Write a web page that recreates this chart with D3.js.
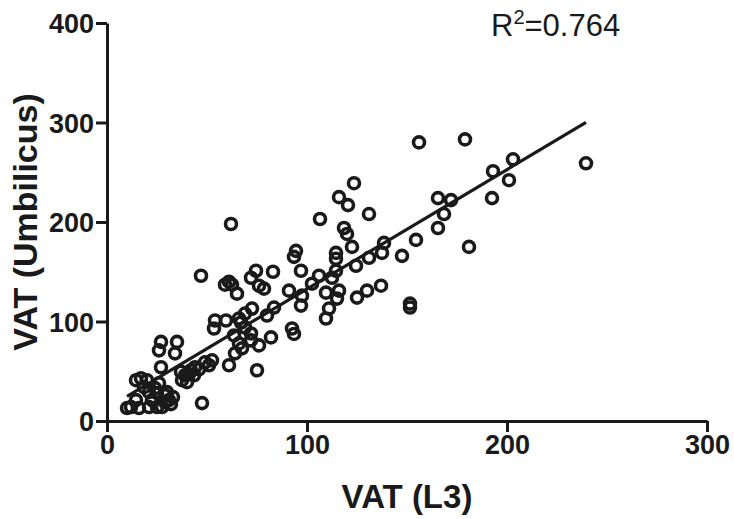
<!DOCTYPE html>
<html>
<head>
<meta charset="utf-8">
<script src="https://cdn.jsdelivr.net/npm/d3@7"></script>
<style>
  body { margin: 0; background: #fff; }
  text { font-family: "Liberation Sans", Arial, sans-serif; fill: #1a1a1a; }
</style>
</head>
<body>
<div id="chart"></div>
<script>
// Data: VAT at L3 (x) vs VAT at umbilicus (y)
const vatL3 = [
  12, 16, 10, 14.5, 17, 14.5, 20, 21, 25, 22.5, 29, 29, 25, 21, 31, 26, 18.5, 27, 26, 27,
  35, 34, 37, 39, 42, 44, 43.5, 37.5, 40, 47.5, 51, 52.5, 54, 53.5, 61, 64, 66, 63.5, 72.5, 69,
  66, 72, 72, 67.5, 75, 30, 32, 27.5, 46, 49, 41, 24, 33,
  47, 59, 61, 62.5, 72, 74.5, 83, 65, 76, 78.5, 97, 91, 97.5, 102.5, 97, 109.5, 111, 112.5, 114.5,
  59.5, 67, 69, 80, 83.5, 82, 93.5, 76, 106, 92.5, 109.5,
  123.5, 116, 120.5, 106.5, 131, 118.5, 120, 122.5, 94.5, 93.5, 114.5, 114.5, 138.5, 137.5, 131, 124.5,
  125, 130, 137, 116, 115,
  156, 179, 203, 193, 201, 192.5, 239.5, 165.5, 172, 168.5, 165.5, 154.5, 147.5, 181, 151.5, 151.5,
  62
];
const vatUmb = [
  14, 13, 13, 21, 43, 41, 41, 29, 28, 21, 26, 19, 14, 14, 21, 38, 34, 54, 71, 79.5,
  79.5, 68, 49.5, 46, 51, 54, 46, 41, 39, 18, 56, 61, 101, 93, 56, 68, 78, 86, 113, 108,
  103, 88, 81, 73, 51, 29, 17, 14, 52, 59, 47, 33, 24,
  146, 137, 140, 137, 144, 151, 150, 128, 136, 133, 151, 131, 126, 138, 116, 129, 113, 144, 151,
  101, 99, 94, 106, 114, 84, 87.5, 76, 146, 93, 103,
  239, 225, 217, 203, 208, 194, 188, 175, 171, 165, 169, 163, 179, 169, 164, 156,
  124, 131, 136, 131, 123,
  280, 283, 263, 251, 242, 224, 259, 224, 222, 208, 194, 182, 166, 175, 118, 114,
  198
];

const xTicks = [0, 100, 200, 300];
const yTicks = [0, 100, 200, 300, 400];
const xTitle = "VAT (L3)";
const yTitle = "VAT (Umbilicus)";
const r2Label = "0.764";

const points = vatL3.map((x, i) => ({ x: x, y: vatUmb[i] }));

// Size
const W = 734, H = 519;
const margin = { top: 23, right: 27, bottom: 98, left: 107 };
const width = W - margin.left - margin.right;
const height = H - margin.top - margin.bottom;
const ink = "#1a1a1a";

const svg = d3.select("#chart").append("svg")
  .attr("width", W)
  .attr("height", H);

const g = svg.append("g")
  .attr("transform", `translate(${margin.left},${margin.top})`);

const x = d3.scaleLinear().domain([0, 300]).range([0, width]);
const y = d3.scaleLinear().domain([0, 400]).range([height, 0]);

// Axes
const xAxis = g.append("g")
  .attr("transform", `translate(0,${height})`)
  .call(d3.axisBottom(x).tickValues(xTicks).tickSize(11).tickSizeOuter(0).tickPadding(3));
const yAxis = g.append("g")
  .call(d3.axisLeft(y).tickValues(yTicks).tickSize(11).tickSizeOuter(0).tickPadding(2));

[xAxis, yAxis].forEach(a => {
  a.select(".domain").attr("stroke", ink).attr("stroke-width", 3);
  a.selectAll(".tick line").attr("stroke", ink).attr("stroke-width", 3);
  a.selectAll(".tick text")
    .attr("font-family", "Liberation Sans, Arial, sans-serif")
    .attr("font-size", 27)
    .attr("font-weight", "bold")
    .attr("fill", ink);
});
yAxis.selectAll(".tick text").attr("dy", "0.36em");

// Linear regression from the points
const mx = d3.mean(points, d => d.x), my = d3.mean(points, d => d.y);
const slope = d3.sum(points, d => (d.x - mx) * (d.y - my)) / d3.sum(points, d => (d.x - mx) ** 2);
const intercept = my - slope * mx;
const [x0, x1] = d3.extent(points, d => d.x);

g.append("line")
  .attr("x1", x(x0)).attr("y1", y(intercept + slope * x0))
  .attr("x2", x(x1)).attr("y2", y(intercept + slope * x1))
  .attr("stroke", ink)
  .attr("stroke-width", 3.2);

// Points
g.selectAll("circle")
  .data(points)
  .enter()
  .append("circle")
  .attr("cx", d => x(d.x))
  .attr("cy", d => y(d.y))
  .attr("r", 5.5)
  .attr("fill", "none")
  .attr("stroke", ink)
  .attr("stroke-width", 3.6);

// Titles
svg.append("text")
  .attr("x", margin.left + width / 2)
  .attr("y", 508)
  .attr("text-anchor", "middle")
  .attr("font-size", 33)
  .attr("font-weight", "bold")
  .text(xTitle);

svg.append("text")
  .attr("transform", `translate(37,${margin.top + height / 2}) rotate(-90)`)
  .attr("text-anchor", "middle")
  .attr("font-size", 34)
  .attr("font-weight", "bold")
  .text(yTitle);

// R squared
const r2 = svg.append("text")
  .attr("x", 491)
  .attr("y", 36)
  .attr("font-size", 31);
r2.append("tspan").text("R");
r2.append("tspan").attr("font-size", 20).attr("dy", -12).text("2");
r2.append("tspan").attr("dy", 12).text("=" + r2Label);
</script>
</body>
</html>
